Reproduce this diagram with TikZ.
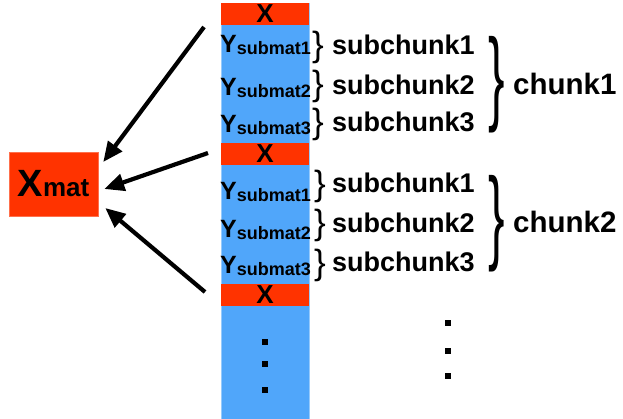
\documentclass[tikz,border=0pt]{standalone}
\usepackage{fontspec}
\setmainfont{Liberation Sans}
\usetikzlibrary{arrows.meta}
\definecolor{redx}{RGB}{255,51,0}
\definecolor{bluec}{RGB}{80,166,250}
\begin{document}
\begin{tikzpicture}[x=1pt,y=-1pt,
  colbg/.style={fill=bluec,draw=bluec!60!white,line width=0.6pt,minimum width=88pt,minimum height=416pt,inner sep=0pt},
  redband/.style={fill=redx,draw=none,minimum width=88pt,minimum height=22pt,inner sep=0pt,font=\fontsize{26}{26}\selectfont\bfseries},
  xmatbox/.style={fill=redx,draw=redx!70!white,line width=0.5pt,minimum width=89pt,minimum height=64pt,inner sep=0pt,font=\bfseries},
  ylab/.style={inner sep=0pt,anchor=base west,font=\fontsize{25}{25}\selectfont\bfseries},
  sublab/.style={inner sep=0pt,anchor=base west,font=\fontsize{27}{27}\selectfont\bfseries},
  chlab/.style={inner sep=0pt,anchor=base west,font=\fontsize{29.5}{29.5}\selectfont\bfseries},
  sbrace/.style={inner sep=0pt,font=\fontsize{35}{35}\selectfont},
  bbrace/.style={inner sep=0pt,font=\fontsize{34}{34}\selectfont},
  arr/.style={line width=4.2pt,-{Triangle[length=20pt,width=17pt]}},
  sqdot/.style={fill=black,draw=none,minimum size=6.5pt,inner sep=0pt}
]
\useasboundingbox (0,0) rectangle (623,419);
\newcommand{\ysub}[1]{Y\raisebox{-2pt}{\fontsize{18}{18}\selectfont submat#1}}
\newcommand{\bigbr}{\scalebox{1.45}[3.05]{\}}}
% column
\node[colbg] (col) at (265,211) {};
\node[redband] (x1) at (265,14) {X};
\node[redband] (x2) at (265,154) {X};
\node[redband] (x3) at (265,295) {X};
% Y labels
\node[ylab] (y11) at (220,53) {\ysub{1}};
\node[ylab] (y12) at (220,96) {\ysub{2}};
\node[ylab] (y13) at (220,133) {\ysub{3}};
\node[ylab] (y21) at (220,200) {\ysub{1}};
\node[ylab] (y22) at (220,238) {\ysub{2}};
\node[ylab] (y23) at (220,273) {\ysub{3}};
% small braces chunk1
\node[sbrace] (b11) at (318,47.5) {\}};
\node[sbrace] (b12) at (318,86) {\}};
\node[sbrace] (b13) at (318,124) {\}};
% small braces chunk2
\node[sbrace] (b21) at (320,186.5) {\}};
\node[sbrace] (b22) at (320,225) {\}};
\node[sbrace] (b23) at (320,265) {\}};
% subchunk labels
\node[sublab] (s11) at (332,55) {subchunk1};
\node[sublab] (s12) at (332,95) {subchunk2};
\node[sublab] (s13) at (332,132) {subchunk3};
\node[sublab] (s21) at (332,193) {subchunk1};
\node[sublab] (s22) at (332,233) {subchunk2};
\node[sublab] (s23) at (332,272) {subchunk3};
% big braces
\node[bbrace] (bb1) at (497,84.5) {\bigbr};
\node[bbrace] (bb2) at (497,224) {\bigbr};
\node[chlab] (c1) at (513,95) {chunk1};
\node[chlab] (c2) at (513,233) {chunk2};
% Xmat
\node[xmatbox] (xm) at (53.5,184) {\fontsize{38}{38}\selectfont X\fontsize{26}{26}\selectfont mat};
% arrows
\coordinate (a1) at (204,27);
\coordinate (a2) at (208,153);
\coordinate (a3) at (205,292);
\coordinate (t1) at ([xshift=5pt,yshift=22pt]xm.east);
\coordinate (t2) at ([xshift=6pt,yshift=-5pt]xm.east);
\coordinate (t3) at ([xshift=7pt,yshift=-24pt]xm.east);
\draw[arr] (a1) -- (t1);
\draw[arr] (a2) -- (t2);
\draw[arr] (a3) -- (t3);
% dots
\node[sqdot] (d1) at (265,342) {};
\node[sqdot] (d2) at (265,364) {};
\node[sqdot] (d3) at (265,390) {};
\node[sqdot] (e1) at (448,323) {};
\node[sqdot] (e2) at (448,351) {};
\node[sqdot] (e3) at (448,376) {};
\end{tikzpicture}
\end{document}
